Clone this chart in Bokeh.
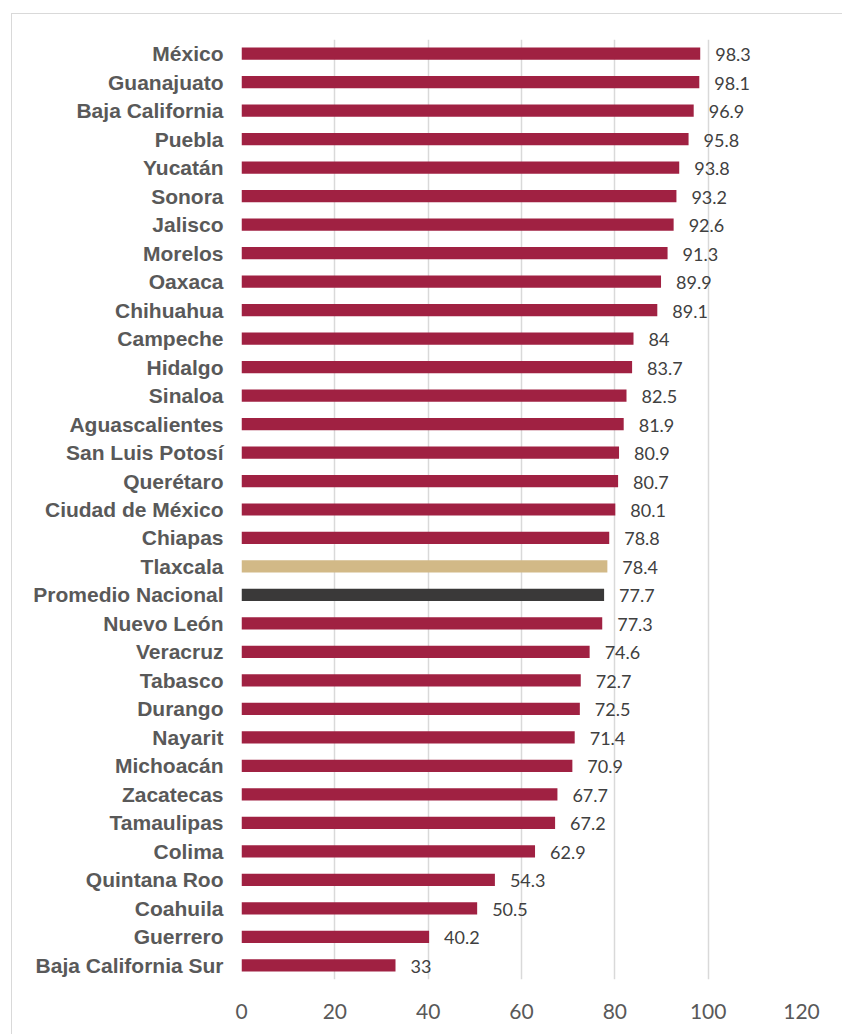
from bokeh.plotting import figure
from bokeh.models import ColumnDataSource, FactorRange, Range1d, FixedTicker
from bokeh.core.properties import value
from bokeh.embed import file_html
from bokeh.resources import INLINE

states = ["México", "Guanajuato", "Baja California", "Puebla", "Yucatán", "Sonora",
          "Jalisco", "Morelos", "Oaxaca", "Chihuahua", "Campeche", "Hidalgo", "Sinaloa",
          "Aguascalientes", "San Luis Potosí", "Querétaro", "Ciudad de México", "Chiapas",
          "Tlaxcala", "Promedio Nacional", "Nuevo León", "Veracruz", "Tabasco", "Durango",
          "Nayarit", "Michoacán", "Zacatecas", "Tamaulipas", "Colima", "Quintana Roo",
          "Coahuila", "Guerrero", "Baja California Sur"]
values = [98.3, 98.1, 96.9, 95.8, 93.8, 93.2, 92.6, 91.3, 89.9, 89.1, 84, 83.7, 82.5,
          81.9, 80.9, 80.7, 80.1, 78.8, 78.4, 77.7, 77.3, 74.6, 72.7, 72.5, 71.4, 70.9,
          67.7, 67.2, 62.9, 54.3, 50.5, 40.2, 33]
labels = ["98.3", "98.1", "96.9", "95.8", "93.8", "93.2", "92.6", "91.3", "89.9", "89.1",
          "84", "83.7", "82.5", "81.9", "80.9", "80.7", "80.1", "78.8", "78.4", "77.7",
          "77.3", "74.6", "72.7", "72.5", "71.4", "70.9", "67.7", "67.2", "62.9", "54.3",
          "50.5", "40.2", "33"]
x_ticks = [0, 20, 40, 60, 80, 100, 120]

MAROON = "#A02142"
TAN = "#D2B987"
DARK = "#3A3939"

def bar_color(name):
    if name == "Tlaxcala":
        return TAN
    if name == "Promedio Nacional":
        return DARK
    return MAROON

colors = [bar_color(s) for s in states]

src = ColumnDataSource(dict(state=states, val=values, lab=labels, color=colors))

p = figure(width=831, height=1021, output_backend="svg", toolbar_location=None,
           y_range=FactorRange(*list(reversed(states)), range_padding=0),
           x_range=Range1d(0, 120),
           min_border_left=229, min_border_right=42, min_border_top=25, min_border_bottom=56)
p.styles = {"margin-left": "11px", "margin-top": "13px",
            "border-left": "1px solid #D9D9D9", "border-top": "1px solid #D9D9D9"}

p.hbar(y="state", right="val", left=0, height=0.43, color="color", line_color=None, source=src)
p.text(x="val", y="state", text="lab", source=src, x_offset=15, y_offset=1,
       text_align="left", text_baseline="middle", text_color="#404040",
       text_font=value("Lato"), text_font_size="18px")

p.outline_line_color = None
p.background_fill_color = "white"
p.border_fill_color = "white"

p.xgrid.ticker = FixedTicker(ticks=x_ticks)
p.xgrid.grid_line_color = "#D9D9D9"
p.xgrid.grid_line_width = 1.5
p.ygrid.grid_line_color = None

p.xaxis.ticker = FixedTicker(ticks=x_ticks)
p.xaxis.axis_line_color = None
p.xaxis.major_tick_line_color = None
p.xaxis.minor_tick_line_color = None
p.xaxis.major_label_text_font = "Lato"
p.xaxis.major_label_text_font_size = "21px"
p.xaxis.major_label_text_color = "#595959"
p.xaxis.major_label_standoff = 18

p.yaxis.axis_line_color = None
p.yaxis.major_tick_line_color = None
p.yaxis.major_label_text_font = "Liberation Sans"
p.yaxis.major_label_text_font_style = "bold"
p.yaxis.major_label_text_font_size = "21px"
p.yaxis.major_label_text_color = "#595959"
p.yaxis.major_label_standoff = 12

open("out.html", "w").write(file_html(p, INLINE))
